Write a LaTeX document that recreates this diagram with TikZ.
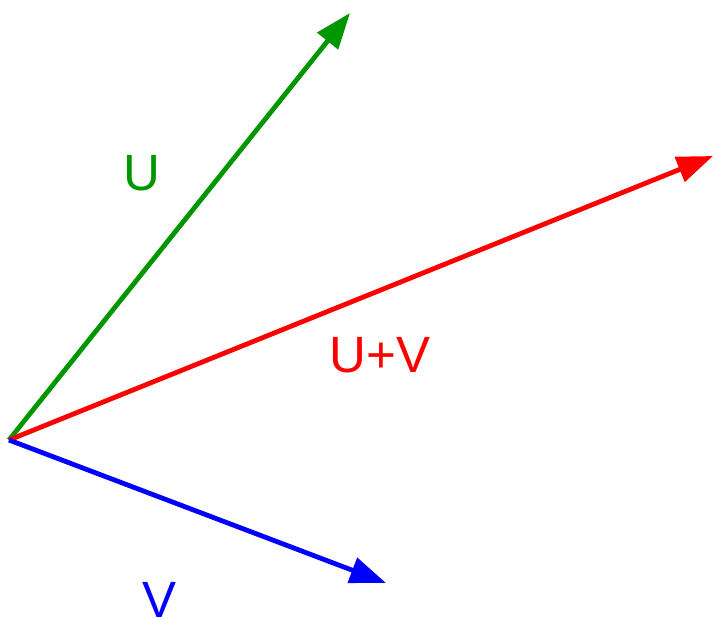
\documentclass[tikz,border=0pt]{standalone}
\usepackage{fontspec}
\setmainfont{Liberation Sans}
\usetikzlibrary{arrows.meta}
\definecolor{vgreen}{RGB}{0,150,0}
\begin{document}
\begin{tikzpicture}[x=1pt,y=-1pt,
  vec/.style={line width=4.8pt,-{Triangle[length=36pt,width=26pt]}},
  lab/.style={font=\fontsize{51}{51}\selectfont,inner sep=0pt}]
\useasboundingbox (0,0) rectangle (715,620);
\coordinate (o) at (9,440);
\coordinate (u) at (350,13);
\coordinate (w) at (713,156);
\coordinate (v) at (386,583);
\draw[vec,vgreen] (o) -- (u);
\draw[vec,red] (o) -- (w);
\draw[vec,blue] (o) -- (v);
\node[lab,text=vgreen] (lu) at (142,173) {U};
\node[lab,text=red] (luv) at (380,355) {U+V};
\node[lab,text=blue] (lv) at (160,600) {V};
\end{tikzpicture}
\end{document}
